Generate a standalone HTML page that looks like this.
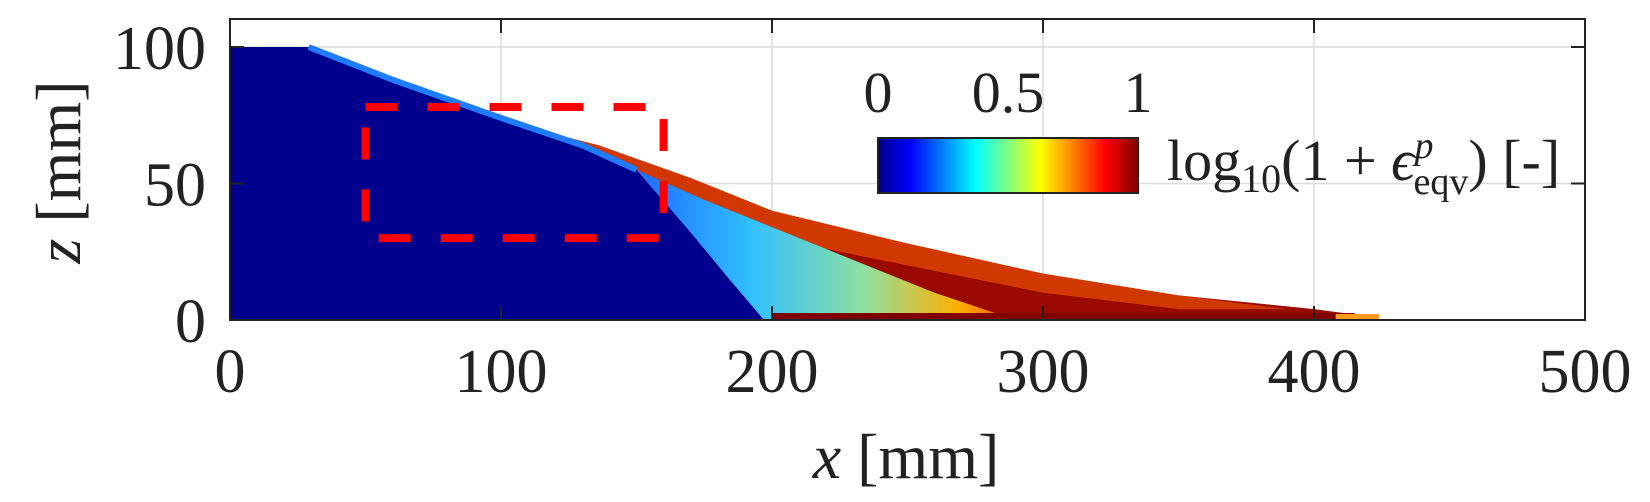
<!DOCTYPE html>
<html><head><meta charset="utf-8"><style>
html,body{margin:0;padding:0;background:#fff;}
svg{display:block;}
text{font-family:"Liberation Serif",serif;fill:#222;}
</style></head><body>
<svg id="chart" width="1650" height="502" viewBox="0 0 1650 502">
<defs>
<linearGradient id="jet" x1="0" x2="1" y1="0" y2="0">
<stop offset="0" stop-color="#00008f"/><stop offset="0.125" stop-color="#0000ff"/>
<stop offset="0.375" stop-color="#00ffff"/><stop offset="0.625" stop-color="#ffff00"/>
<stop offset="0.875" stop-color="#ff0000"/><stop offset="1" stop-color="#800000"/>
</linearGradient>
<linearGradient id="band" x1="0" x2="1" y1="0" y2="0">
<stop offset="0" stop-color="#1e6bff"/><stop offset="0.3" stop-color="#30c0ff"/>
<stop offset="0.6" stop-color="#8fe0a0"/><stop offset="0.85" stop-color="#ffb000"/>
<stop offset="1" stop-color="#e84000"/>
</linearGradient>
<clipPath id="plotclip"><rect x="230" y="19" width="1355" height="301"/></clipPath>
</defs>
<g id="grid"></g>
<g id="field" clip-path="url(#plotclip)"></g>
<g id="axes"></g>
<g id="cbar"></g>
</svg>
<script>
const xTicks=[0,100,200,300,400,500];
const zTicks=[0,50,100];
const xGrid=[100,200,300,400];
const zGrid=[50,100];
const surfX=[0,29,50,75,100,136,170,200,250,300,350,400,415,424];
const surfZ=[100,100,92,81,73,64,52,40,28,17,9,4,2,0];
const blueX=[0,29,60,100,130,150,170,185,197];
const blueZ=[100,100,88,74,64,55,32,14,0];
const bandX=[150,175,200,230,260,290];
const bandZ=[55,44,34,22,10,0];
const orangeX=[75,100,136,170,200,250,300,350,390,350,300,250,200,160,130];
const orangeZ=[81,73,64,52,40,28,17,9,4,4,10,20,30,42,56];
const roiX=[50,160];
const roiZ=[30,78];
const cbTicks=[0,0.5,1];
const cbTickLabels=["0","0.5","1"];

const X0=230,PX=2.71,Z0=320,PZ=2.73;
const sx=x=>X0+x*PX, sz=z=>Z0-z*PZ;
const NS="http://www.w3.org/2000/svg";
function mk(tag,attrs,parent){const e=document.createElementNS(NS,tag);for(const k in attrs)e.setAttribute(k,attrs[k]);parent.appendChild(e);return e;}
const grid=document.getElementById('grid'),field=document.getElementById('field'),axes=document.getElementById('axes'),cbar=document.getElementById('cbar');
const pts=(xs,zs)=>xs.map((x,i)=>sx(x)+','+sz(zs[i])).join(' ');

xGrid.forEach(v=>{const l=mk('line',{x1:sx(v),x2:sx(v),y1:19,y2:320,stroke:'#dcdcdc','stroke-width':1.5},grid);

});
zGrid.forEach(v=>{const l=mk('line',{x1:230,x2:1585,y1:sz(v),y2:sz(v),stroke:'#dcdcdc','stroke-width':1.5},grid);

});

const full=mk('polygon',{points:pts(surfX,surfZ)+' '+sx(0)+','+sz(0),fill:'#9a0a00'},field);


const orange=mk('polygon',{points:pts(orangeX,orangeZ),fill:'#e24800',opacity:0.75},field);


const band=mk('polygon',{points:pts(bandX,bandZ)+' '+pts(blueX.slice(5).reverse(),blueZ.slice(5).reverse()),fill:'url(#band)'},field);


const blue=mk('polygon',{points:pts(blueX,blueZ)+' '+sx(0)+','+sz(0),fill:'#00008f'},field);


const edge=mk('polyline',{points:pts(blueX.slice(1,6),blueZ.slice(1,6)),fill:'none',stroke:'#1f7cff','stroke-width':6},field);


const botstrip=mk('rect',{x:sx(200),y:sz(0)-7,width:sx(415)-sx(200),height:7,fill:'#800000'},field);


const tip=mk('rect',{x:sx(408),y:sz(0)-6,width:sx(424)-sx(408),height:6,fill:'#ff9a20'},field);



const roi=mk('rect',{x:sx(roiX[0]),y:sz(roiZ[1]),width:sx(roiX[1])-sx(roiX[0]),height:sz(roiZ[0])-sz(roiZ[1]),fill:'none',stroke:'#ff0000','stroke-width':8,'stroke-dasharray':'32,30'},axes);



const box=mk('rect',{x:230,y:19,width:1355,height:301,fill:'none',stroke:'#222','stroke-width':2},axes);


xTicks.forEach(v=>{mk('line',{x1:sx(v),x2:sx(v),y1:19,y2:33,stroke:'#222','stroke-width':2},axes);
mk('line',{x1:sx(v),x2:sx(v),y1:320,y2:306,stroke:'#222','stroke-width':2},axes);
const t=mk('text',{x:sx(v),y:392,'text-anchor':'middle','font-size':62},axes);t.textContent=v;

});
zTicks.forEach(v=>{mk('line',{x1:230,x2:244,y1:sz(v),y2:sz(v),stroke:'#222','stroke-width':2},axes);
mk('line',{x1:1585,x2:1571,y1:sz(v),y2:sz(v),stroke:'#222','stroke-width':2},axes);
const t=mk('text',{x:206,y:sz(v)+22,'text-anchor':'end','font-size':62},axes);t.textContent=v;

});
const xl=mk('text',{x:906,y:478,'text-anchor':'middle','font-size':64},axes);
xl.innerHTML='<tspan font-style="italic">x</tspan> [mm]';


const yl=mk('text',{x:0,y:0,'text-anchor':'middle','font-size':64,transform:'translate(80,172) rotate(-90)'},axes);
yl.innerHTML='<tspan font-style="italic">z</tspan> [mm]';



const CB0=878,CB1=1138;
const cb=mk('rect',{x:CB0,y:138,width:CB1-CB0,height:55,fill:'url(#jet)',stroke:'#222','stroke-width':2},cbar);


cbTicks.forEach((v,i)=>{const x=CB0+v*(CB1-CB0);
const t=mk('text',{x:x,y:112,'text-anchor':'middle','font-size':58},cbar);t.textContent=cbTickLabels[i];

});
const cl=mk('text',{x:1167,y:180,'font-size':58},cbar);
cl.innerHTML='log<tspan font-size="40" dy="12">10</tspan><tspan dy="-12">(1 + </tspan><tspan font-style="italic">ϵ</tspan><tspan font-size="38" font-style="italic" dy="-22">p</tspan><tspan font-size="38" dx="-20" dy="36">eqv</tspan><tspan dy="-14">) [-]</tspan>';


</script>
</body></html>
